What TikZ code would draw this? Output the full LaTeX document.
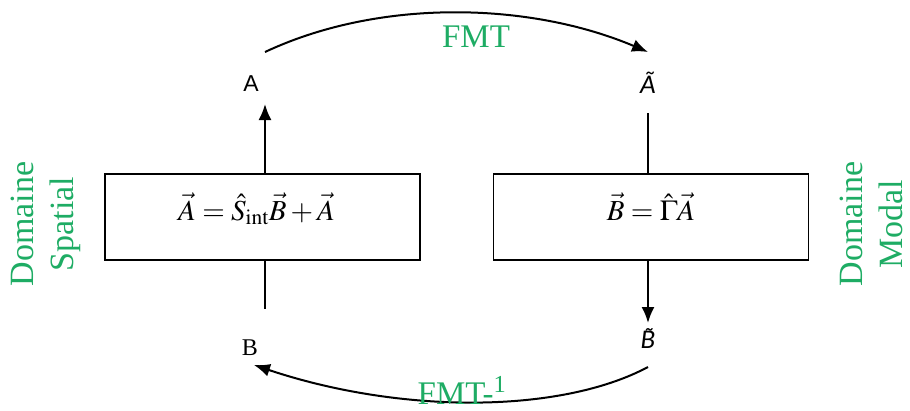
\documentclass[tikz,border=0pt]{standalone}
\usepackage{mathptmx}
\usepackage{fontspec}
\setmainfont{Liberation Serif}
\newfontfamily\lsans{Liberation Sans}
\newfontfamily\carl{Carlito}
\usetikzlibrary{arrows.meta}
\definecolor{grn}{RGB}{30,172,100}
\tikzset{
  box/.style={draw, line width=1.8pt, minimum width=315pt, minimum height=86pt, inner sep=0pt,
    text height=27pt, text depth=21pt, font=\fontsize{29}{34}\selectfont},
  conn/.style={line width=2pt},
  arr/.style={line width=2pt, -{Latex[length=16pt,width=13pt]}},
  glab/.style={text=grn, font=\fontsize{33}{38}\selectfont},
  dom/.style={text=grn, rotate=90, align=center, font=\fontsize{34}{40}\selectfont},
  lab/.style={font=\fontsize{24}{28}\selectfont},
  tlab/.style={font=\carl\itshape\fontsize{27}{30}\selectfont}
}
\begin{document}
\begin{tikzpicture}[x=1pt,y=-1pt]
\useasboundingbox (0,0) rectangle (910,410);
\node[box] (boxL) at (262.5,217) {$\vec{A}=\hat{S}_{\mathrm{int}}\vec{B}+\vec{A}$\hspace*{12pt}};
\node[box] (boxR) at (651,217) {$\vec{B}=\hat{\Gamma}\vec{A}$};
\node[lab, font=\lsans\fontsize{23}{26}\selectfont] (A) at (251,84) {A};
\node[lab] (B) at (250,348) {B};
\node[tlab] (At) at (648,83) {Ã};
\node[tlab] (Bt) at (648,340) {\ooalign{B\cr\hidewidth\raisebox{0.08em}{\char"02DC}\hidewidth\cr}};
\coordinate (Atop) at (265,104);
\coordinate (Lbot) at (265,309);
\coordinate (Rtop) at (648,113);
\coordinate (Rbot) at (648,323);
\draw[arr] (boxL.north -| Atop) -- (Atop);
\draw[conn] (boxL.south -| Lbot) -- (Lbot);
\draw[conn] (Rtop) -- (boxR.north -| Rtop);
\draw[arr] (boxR.south -| Rbot) -- (Rbot);
\coordinate (t1) at (265,52);
\coordinate (t2) at (648,52);
\coordinate (b1) at (648,367);
\coordinate (b2) at (254,365);
\draw[arr] (t1) .. controls (380,-2) and (530,2) .. (t2);
\draw[arr] (b1) .. controls (560,414) and (400,414) .. (b2);
\node[glab] (fmt) at (476,37) {FMT};
\node[glab, inner sep=0pt, anchor=base] (fmti) at (462,404) {FMT-\textsuperscript{1}};
\node[dom] (domL) at (46,224) {Domaine\\Spatial};
\node[dom] (domR) at (871,224) {Domaine\\Modal};
\end{tikzpicture}
\end{document}
